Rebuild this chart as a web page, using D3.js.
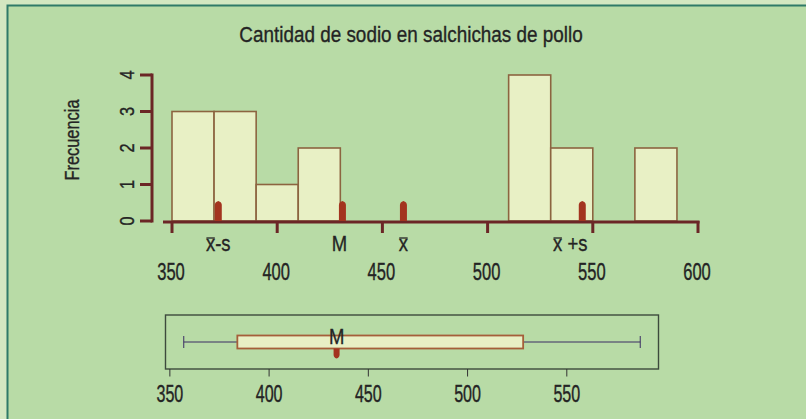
<!DOCTYPE html>
<html>
<head>
<meta charset="utf-8">
<script src="https://cdn.jsdelivr.net/npm/d3@7"></script>
<style>
  html, body { margin: 0; padding: 0; background: #d3e7c1; }
  svg { display: block; }
  text { font-family: "Liberation Sans", Arial, sans-serif; fill: #242424; stroke: #242424; stroke-width: 0.35px; }
</style>
</head>
<body>
<div id="chart"></div>
<script>
// Histogram + boxplot of sodium in chicken hot dogs

const binEdges = [350, 370, 390, 410, 430, 450, 470, 490, 510, 530, 550, 570, 590];
const binCounts = [3, 3, 1, 2, 0, 0, 0, 0, 4, 2, 0, 2];
const xTicks = [350, 400, 450, 500, 550, 600];
const yTicks = [0, 1, 2, 3, 4];

// reference markers: x̄-s, M, x̄, x̄+s
const markerNames = ['x-s', 'M', 'x', 'x +s'];
const markerValues = [372, 431, 460, 545];

// five numbers for the boxplot
const boxStats = [357, 384, 434, 528, 587]; // min, Q1, median, Q3, max
const boxTicks = [350, 400, 450, 500, 550];

const W = 806, H = 419;
const AXIS = '#6b2626';
const BAR_FILL = '#e8f0c5';
const BAR_STROKE = '#8c6440';
const MARK = '#a3341f';

const svg = d3.select('#chart').append('svg')
    .attr('width', W)
    .attr('height', H);

// text helper: Liberation Sans squeezed sideways to look condensed
function label(parent, tx, ty, str, size, sx, rot) {
    const g = parent.append('g')
        .attr('transform', `translate(${tx},${ty})` + (rot ? ` rotate(${rot})` : '') + ` scale(${sx},1)`);
    g.append('text')
        .attr('text-anchor', 'middle')
        .attr('font-size', size + 'px')
        .text(str);
    return g;
}

// panel background + border
svg.append('rect')
    .attr('x', 7.5).attr('y', 5.5)
    .attr('width', W).attr('height', H)
    .attr('fill', '#b8dba6')
    .attr('stroke', '#2f7a68')
    .attr('stroke-width', 2);

// Title
label(svg, 411, 42, 'Cantidad de sodio en salchichas de pollo', 22.5, 0.84);

// ---- Histogram ----
const x = d3.scaleLinear().domain([350, 600]).range([172, 698]);
const y = d3.scaleLinear().domain([0, 4]).range([221, 75]);

const bins = binCounts.map((c, i) => ({ x0: binEdges[i], x1: binEdges[i + 1], count: c }))
    .filter(b => b.count > 0);

svg.append('g').selectAll('rect')
    .data(bins)
    .join('rect')
    .attr('x', d => x(d.x0))
    .attr('y', d => y(d.count))
    .attr('width', d => x(d.x1) - x(d.x0))
    .attr('height', d => y(0) - y(d.count))
    .attr('fill', BAR_FILL)
    .attr('stroke', BAR_STROKE)
    .attr('stroke-width', 1.6);

// x axis (line drawn past the first tick, like the original)
const xAxisG = svg.append('g');
xAxisG.append('line')
    .attr('x1', 163).attr('x2', x(600) + 1.5)
    .attr('y1', y(0) + 1).attr('y2', y(0) + 1)
    .attr('stroke', AXIS).attr('stroke-width', 3);
xAxisG.selectAll('line.tick')
    .data(xTicks)
    .join('line')
    .attr('class', 'tick')
    .attr('x1', d => x(d)).attr('x2', d => x(d))
    .attr('y1', y(0)).attr('y2', y(0) + 12)
    .attr('stroke', AXIS).attr('stroke-width', 3);
xTicks.forEach(t => label(xAxisG, x(t) - 1, 280, t, 23, 0.72));

// y axis
const yAxisG = svg.append('g');
yAxisG.append('line')
    .attr('x1', 152).attr('x2', 152)
    .attr('y1', y(4) - 1.5).attr('y2', y(0) + 1.5)
    .attr('stroke', AXIS).attr('stroke-width', 3);
yAxisG.selectAll('line.tick')
    .data(yTicks)
    .join('line')
    .attr('class', 'tick')
    .attr('x1', 140).attr('x2', 152)
    .attr('y1', d => y(d)).attr('y2', d => y(d))
    .attr('stroke', AXIS).attr('stroke-width', 3);
yTicks.forEach(t => label(yAxisG, 134, y(t), t, 21, 0.78, -90));

label(svg, 79, 140, 'Frecuencia', 20.5, 0.8, -90);

// marker shape: little rounded peg
function pegUp(cx, base) {
    const w = 3.5, h = 19;
    return `M${cx - w},${base} L${cx - w},${base - h + 3} Q${cx - w},${base - h} ${cx},${base - h - 1} Q${cx + w},${base - h} ${cx + w},${base - h + 3} L${cx + w},${base} Z`;
}
function pegDown(cx, top) {
    const w = 3, h = 9;
    return `M${cx - w},${top} L${cx - w},${top + h - 3} Q${cx - w},${top + h} ${cx},${top + h + 1} Q${cx + w},${top + h} ${cx + w},${top + h - 3} L${cx + w},${top} Z`;
}

svg.append('g').selectAll('path')
    .data(markerValues)
    .join('path')
    .attr('d', d => pegUp(x(d), y(0)))
    .attr('fill', MARK);

// marker labels; the "x" parts get a bar over them
const labelDx = [0, -3, 0, -12];
markerNames.forEach((name, i) => {
    const g = label(svg, x(markerValues[i]) + labelDx[i], 251, name, 22, 0.84);
    if (name[0] !== 'x') return;
    const t = g.select('text').node();
    const bb = t.getBBox();
    const wx = t.getSubStringLength(0, 1);
    g.append('line')
        .attr('x1', bb.x + 0.5).attr('x2', bb.x + wx - 0.5)
        .attr('y1', -13).attr('y2', -13)
        .attr('stroke', '#242424').attr('stroke-width', 1.3);
});

// ---- Boxplot ----
const [bMin, bQ1, bMed, bQ3, bMax] = boxStats;
const pad = (bMax - bMin) * 0.04;
const xb = d3.scaleLinear().domain([bMin - pad, bMax + pad]).range([165.5, 658.5]);
const by = 342;

svg.append('rect')
    .attr('x', xb(bMin - pad)).attr('y', 315)
    .attr('width', xb(bMax + pad) - xb(bMin - pad)).attr('height', 54)
    .attr('fill', 'none')
    .attr('stroke', '#3d4a3d').attr('stroke-width', 1.4);

const whisk = svg.append('g').attr('stroke', '#3b2d63').attr('stroke-width', 1);
whisk.append('line').attr('x1', xb(bMin)).attr('x2', xb(bQ1)).attr('y1', by).attr('y2', by);
whisk.append('line').attr('x1', xb(bQ3)).attr('x2', xb(bMax)).attr('y1', by).attr('y2', by);
whisk.selectAll('line.cap')
    .data([bMin, bMax])
    .join('line')
    .attr('class', 'cap')
    .attr('x1', d => xb(d)).attr('x2', d => xb(d))
    .attr('y1', by - 6).attr('y2', by + 6);

svg.append('rect')
    .attr('x', xb(bQ1)).attr('y', 335.5)
    .attr('width', xb(bQ3) - xb(bQ1)).attr('height', 13)
    .attr('fill', BAR_FILL)
    .attr('stroke', '#a55f3a').attr('stroke-width', 1.8);

svg.append('path')
    .attr('d', pegDown(xb(bMed), 348.5))
    .attr('fill', MARK);

label(svg, xb(bMed), 344, 'M', 22, 0.84);

const bAxis = svg.append('g');
bAxis.selectAll('line')
    .data(boxTicks)
    .join('line')
    .attr('x1', d => xb(d)).attr('x2', d => xb(d))
    .attr('y1', 369).attr('y2', 376.5)
    .attr('stroke', '#333').attr('stroke-width', 1);
boxTicks.forEach(t => label(bAxis, xb(t), 402, t, 23, 0.7));
</script>
</body>
</html>
